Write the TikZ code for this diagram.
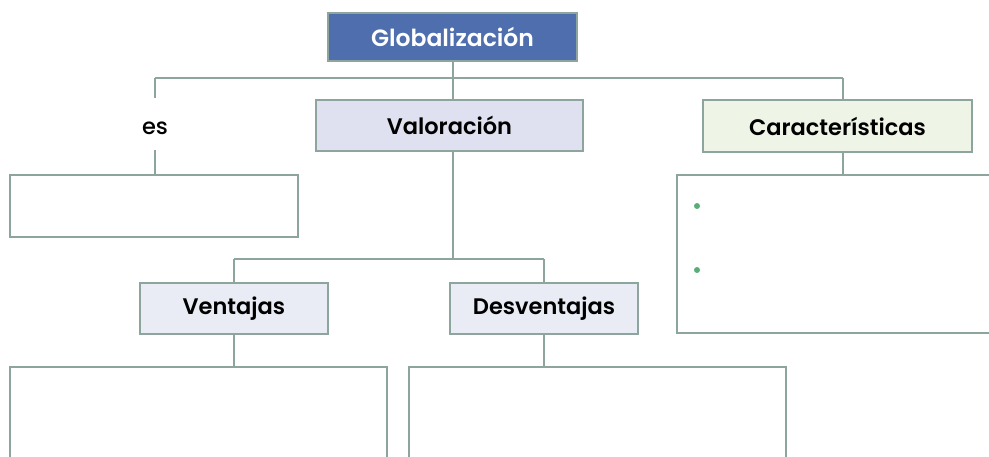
\documentclass[tikz,border=0pt]{standalone}
\usepackage{fontspec}
\setmainfont{Poppins}[BoldFont={Poppins SemiBold}]
\newfontfamily\medfont{Poppins Medium}
\usetikzlibrary{positioning}

\definecolor{edgegreen}{HTML}{8DA59D}
\definecolor{globblue}{HTML}{4F6EAE}
\definecolor{valfill}{HTML}{DFE1F0}
\definecolor{ventfill}{HTML}{E9EBF5}
\definecolor{carfill}{HTML}{EEF5E6}
\definecolor{dotgreen}{HTML}{5AAD78}

\tikzset{
  conn/.style={draw=edgegreen, line width=1.8pt},
  head/.style={draw=edgegreen, line width=1.8pt, minimum height=51pt, inner sep=0pt,
    font=\bfseries\fontsize{22.5}{26}\selectfont},
  blank/.style={draw=edgegreen, line width=1.8pt, inner sep=0pt},
  dot/.style={circle, fill=dotgreen, minimum size=6pt, inner sep=0pt},
}

\begin{document}
\begin{tikzpicture}[x=1pt,y=-1pt]
\clip (0,0) rectangle (989,456);
\useasboundingbox (0,0) rectangle (989,456);

% title
\node[head, fill=globblue, text=white, minimum width=249pt, minimum height=48pt,
  font=\bfseries\fontsize{23.5}{27}\selectfont] (glob) at (452.5,37) {Globalización};

% first row
\node[font=\medfont\fontsize{22.5}{26}\selectfont] (es) at (155,128) {es};
\node[head, fill=valfill, minimum width=267pt] (val) at (449.5,125.5) {Valoración};
\node[head, fill=carfill, minimum width=269pt, minimum height=52pt] (car) at (837.5,126) {Características};

\node[blank, minimum width=288pt, minimum height=62pt] (esbox) at (154,206) {};
\node[blank, minimum width=340pt, minimum height=158pt] (carbox) at (847,254) {};
\node[dot] (dot1) at (697,206) {};
\node[dot] (dot2) at (697,270) {};

% second row
\node[head, fill=ventfill, minimum width=188pt] (vent) at (234,308.5) {Ventajas};
\node[head, fill=ventfill, minimum width=188pt] (desv) at (544,308.5) {Desventajas};
\node[blank, minimum width=377pt, minimum height=140pt] (ventbox) at (198.5,437) {};
\node[blank, minimum width=377pt, minimum height=140pt] (desvbox) at (597.5,437) {};

% connectors
\coordinate (top) at (453,78);
\coordinate (carj) at (843,78);
\coordinate (low) at (453,259);
\draw[conn] (glob.south -| top) -- (top);
\draw[conn] (es.north |- top) -- (carj);
\draw[conn] (top) -- (top |- val.north);
\draw[conn] (es.north |- top) -- (155,98);
\draw[conn] (155,150) -- (es.south |- esbox.north);
\draw[conn] (carj) -- (carj |- car.north);
\draw[conn] (car.south -| carj) -- (carbox.north -| carj);
\draw[conn] (val.south -| low) -- (low);
\draw[conn] (vent.north |- low) -- (desv.north |- low);
\draw[conn] (vent.north |- low) -- (vent.north);
\draw[conn] (desv.north |- low) -- (desv.north);
\draw[conn] (vent.south) -- (vent.south |- ventbox.north);
\draw[conn] (desv.south) -- (desv.south |- desvbox.north);
\end{tikzpicture}
\end{document}
